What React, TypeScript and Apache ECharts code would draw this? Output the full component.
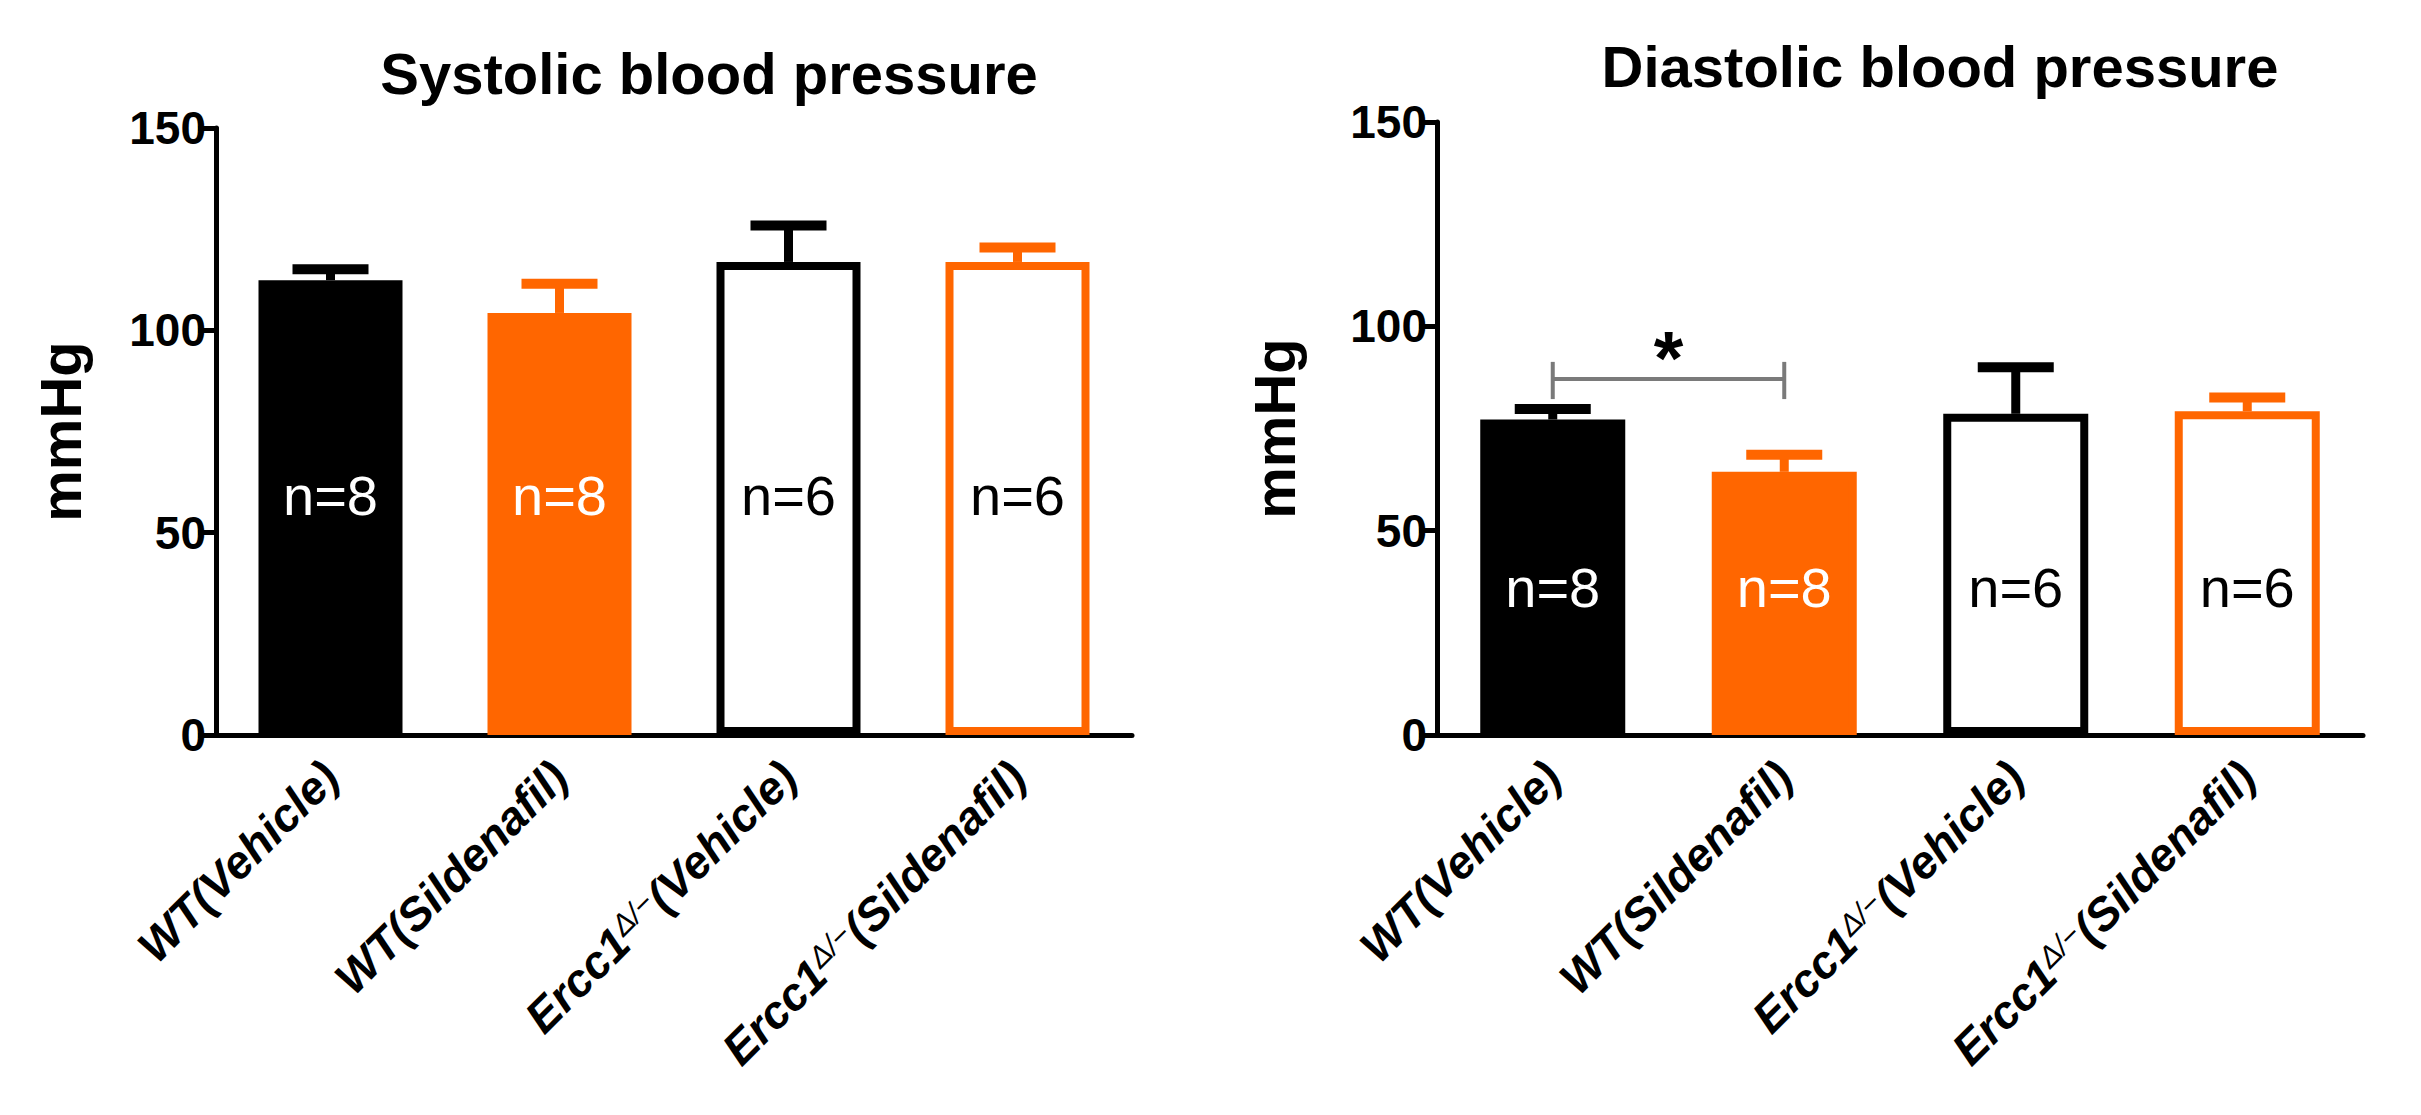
import React, { useEffect, useRef } from "react";
import * as echarts from "echarts";

// ---------- data ----------
const categories = ["WT(Vehicle)", "WT(Sildenafil)", "Ercc1Δ/−(Vehicle)", "Ercc1Δ/−(Sildenafil)"];
const nLabels = ["n=8", "n=8", "n=6", "n=6"];
const systolicMean = [112.4, 104.3, 116.9, 116.9];
const systolicUpper = [115.1, 111.5, 125.9, 120.5];
const diastolicMean = [77.2, 64.4, 78.6, 79.2];
const diastolicUpper = [79.8, 68.6, 90.0, 82.6];
const systolicNLabelY = 59.3;
const diastolicNLabelY = 36.2;
// significance bracket in diastolic panel: [catA, catB, lineY, tickLow, tickHigh, starY]
const diastolicSig = [[0, 1, 87.1, 82.2, 91.3, 92.4]];
const yTicks = { min: 0, max: 150, interval: 50 };

const ORANGE = "#FF6600";
const BLACK = "#000000";
const fills = [BLACK, ORANGE, "#FFFFFF", "#FFFFFF"];
const strokes = [BLACK, ORANGE, BLACK, ORANGE];
const nColors = ["#FFFFFF", "#FFFFFF", BLACK, BLACK];
const FONT = "'Liberation Sans', Arial, Helvetica, sans-serif";

function xLabelFormatter(v: string) {
  const m = v.match(/^Ercc1Δ\/−(.*)$/);
  if (m) return "{b|Ercc1}{s|Δ/−}{b|" + m[1] + "}";
  return "{b|" + v + "}";
}

function makeXAxis(gridIndex: number) {
  return {
    type: "category",
    gridIndex,
    data: categories,
    axisLine: { lineStyle: { color: BLACK, width: 5 } },
    axisTick: { alignWithLabel: true, length: 16, lineStyle: { color: BLACK, width: 4 } },
    axisLabel: {
      interval: 0,
      rotate: 45,
      margin: 34,
      color: BLACK,
      formatter: xLabelFormatter,
      rich: {
        b: { fontSize: 46, fontWeight: "bold", fontStyle: "italic", fontFamily: FONT, color: BLACK },
        s: { fontSize: 30, fontWeight: "normal", fontStyle: "italic", fontFamily: FONT, color: BLACK, verticalAlign: "top" },
      },
    },
  };
}

function makeYAxis(gridIndex: number, nameGap: number) {
  return {
    type: "value",
    gridIndex,
    min: yTicks.min,
    max: yTicks.max,
    interval: yTicks.interval,
    name: "mmHg",
    nameLocation: "middle",
    nameGap,
    nameRotate: 90,
    nameTextStyle: { fontSize: 58, fontWeight: "bold", fontFamily: FONT, color: BLACK },
    splitLine: { show: false },
    axisLine: { show: true, lineStyle: { color: BLACK, width: 5 } },
    axisTick: { show: true, length: 18, lineStyle: { color: BLACK, width: 5 } },
    axisLabel: { margin: 10, fontSize: 46, fontWeight: "bold", fontFamily: FONT, color: BLACK },
  };
}

function barSeries(idx: number, values: number[], barWidth: number) {
  return {
    type: "bar",
    xAxisIndex: idx,
    yAxisIndex: idx,
    barWidth,
    z: 2,
    data: values.map((v, i) => ({
      value: v,
      itemStyle: { color: fills[i], borderColor: strokes[i], borderWidth: 8 },
    })),
  };
}

function errorSeries(idx: number, means: number[], uppers: number[]) {
  return {
    type: "custom",
    xAxisIndex: idx,
    yAxisIndex: idx,
    z: 3,
    data: means.map((m, i) => [i, m, uppers[i]]),
    renderItem: (params: any, api: any) => {
      const i = api.value(0);
      const p0 = api.coord([i, api.value(1)]);
      const p1 = api.coord([i, api.value(2)]);
      const c = strokes[i];
      return {
        type: "group",
        children: [
          { type: "line", shape: { x1: p0[0], y1: p0[1], x2: p1[0], y2: p1[1] }, style: { stroke: c, lineWidth: 9 } },
          { type: "rect", shape: { x: p1[0] - 38, y: p1[1] - 5, width: 76, height: 10 }, style: { fill: c } },
        ],
      };
    },
  };
}

function nLabelSeries(idx: number, yVal: number) {
  return {
    type: "custom",
    xAxisIndex: idx,
    yAxisIndex: idx,
    z: 4,
    data: nLabels.map((t, i) => [i, yVal]),
    renderItem: (params: any, api: any) => {
      const i = api.value(0);
      const p = api.coord([i, api.value(1)]);
      return {
        type: "text",
        x: p[0],
        y: p[1],
        style: {
          text: nLabels[i],
          fill: nColors[i],
          fontSize: 56,
          fontFamily: FONT,
          align: "center",
          verticalAlign: "middle",
        },
      };
    },
  };
}

function sigSeries(idx: number) {
  return {
    type: "custom",
    xAxisIndex: idx,
    yAxisIndex: idx,
    z: 5,
    data: diastolicSig,
    renderItem: (params: any, api: any) => {
      const a = api.value(0), b = api.value(1);
      const y = api.value(2), lo = api.value(3), hi = api.value(4), sy = api.value(5);
      const pa = api.coord([a, y]);
      const pb = api.coord([b, y]);
      const ylo = api.coord([a, lo])[1];
      const yhi = api.coord([a, hi])[1];
      const ys = api.coord([a, sy])[1];
      const st = { stroke: "#7a7a7a", lineWidth: 4 };
      return {
        type: "group",
        children: [
          { type: "line", shape: { x1: pa[0], y1: pa[1], x2: pb[0], y2: pb[1] }, style: st },
          { type: "line", shape: { x1: pa[0], y1: ylo, x2: pa[0], y2: yhi }, style: st },
          { type: "line", shape: { x1: pb[0], y1: ylo, x2: pb[0], y2: yhi }, style: st },
          {
            type: "text",
            x: (pa[0] + pb[0]) / 2,
            y: ys,
            style: { text: "*", fill: BLACK, fontSize: 76, fontWeight: "bold", fontFamily: FONT, align: "center", verticalAlign: "middle" },
          },
        ],
      };
    },
  };
}

export default function App() {
  const ref = useRef<HTMLDivElement>(null);
  useEffect(() => {
    document.body.style.margin = "0";
    const chart = echarts.init(ref.current!, null, { renderer: "svg" });
    chart.setOption({
      animation: false,
      backgroundColor: "#FFFFFF",
      title: [
        {
          text: "Systolic blood pressure",
          left: 704,
          top: 39,
          textAlign: "center",
          textStyle: { fontSize: 58, fontWeight: "bold", fontFamily: FONT, color: BLACK },
        },
        {
          text: "Diastolic blood pressure",
          left: 1935,
          top: 32,
          textAlign: "center",
          textStyle: { fontSize: 58, fontWeight: "bold", fontFamily: FONT, color: BLACK },
        },
      ],
      grid: [
        { left: 216, top: 128, width: 916, height: 607, containLabel: false },
        { left: 1437, top: 122, width: 926, height: 613, containLabel: false },
      ],
      xAxis: [makeXAxis(0), makeXAxis(1)],
      yAxis: [makeYAxis(0, 127), makeYAxis(1, 134)],
      series: [
        barSeries(0, systolicMean, 144),
        errorSeries(0, systolicMean, systolicUpper),
        nLabelSeries(0, systolicNLabelY),
        barSeries(1, diastolicMean, 145),
        errorSeries(1, diastolicMean, diastolicUpper),
        nLabelSeries(1, diastolicNLabelY),
        sigSeries(1),
      ],
    });
    return () => chart.dispose();
  }, []);
  return <div ref={ref} style={{ width: 2421, height: 1115 }} />;
}
